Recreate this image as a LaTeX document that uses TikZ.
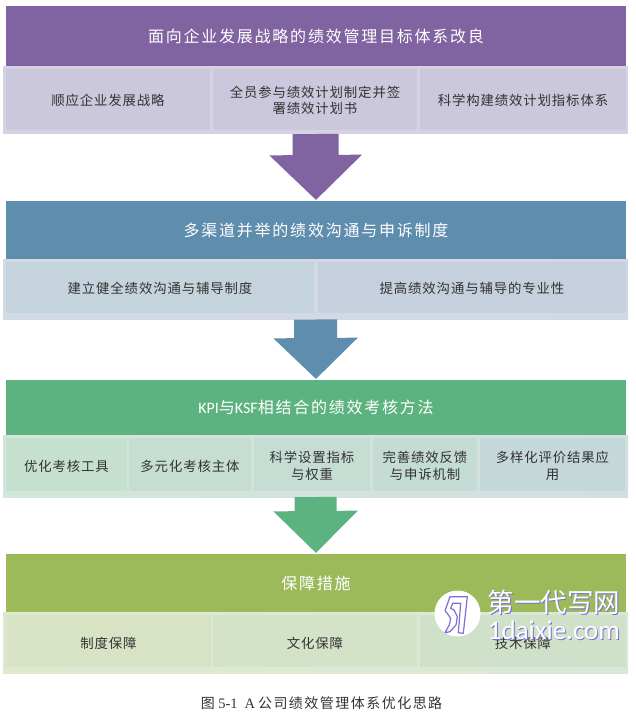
\documentclass[tikz,border=0pt]{standalone}
\usepackage{fontspec}
\setmainfont{Noto Sans CJK SC}
\newfontfamily\latinserif{Liberation Serif}
\newfontfamily\latinsans{Carlito}
\usetikzlibrary{arrows.meta}
\definecolor{Purple}{HTML}{8063A1}
\definecolor{PurpleCell}{HTML}{CBC7DC}
\definecolor{PurpleRow}{HTML}{D4D2E3}
\definecolor{Blue}{HTML}{5F8DAE}
\definecolor{BlueCell}{HTML}{C5D3DD}
\definecolor{BlueCellEnd}{HTML}{C6CFDD}
\definecolor{BlueRow}{HTML}{D2DBE3}
\definecolor{BlueRowEnd}{HTML}{D2D7E4}
\definecolor{Green}{HTML}{5CB37F}
\definecolor{GreenCell}{HTML}{C6E0D0}
\definecolor{GreenCellEnd}{HTML}{C5D8D9}
\definecolor{GreenRow}{HTML}{D2E6D9}
\definecolor{GreenRowEnd}{HTML}{D3DEE3}
\definecolor{Olive}{HTML}{9CBA5A}
\definecolor{OliveCell}{HTML}{D8E3C6}
\definecolor{OliveCellEnd}{HTML}{CFE1C9}
\definecolor{OliveRow}{HTML}{DFE9D0}
\definecolor{OliveRowEnd}{HTML}{D8E8D6}
\definecolor{Mark}{HTML}{7C70D8}
\tikzset{
  band/.style={inner sep=0pt,outer sep=0pt,minimum width=620,minimum height=#1,text=white,font=\fontsize{16}{18}\selectfont\addfontfeature{LetterSpace=11}},
  rowbox/.style={inner sep=0pt,outer sep=0pt,minimum width=625,minimum height=#1},
  cellbox/.style={inner sep=0pt,outer sep=0pt,minimum height=#1},
  celltext/.style={inner sep=0pt,align=center,text=black!80,font=\fontsize{13.4}{16.6}\selectfont\addfontfeature{LetterSpace=6.5}},
  flow/.style={line width=#1,shorten >=1pt}
}
\begin{document}
\begin{tikzpicture}[x=1pt,y=-1pt]
  \useasboundingbox (0,0) rectangle (636,715);
  % top block
  \node[band=60,fill=Purple] (bandA) at (316,36) {面向企业发展战略的绩效管理目标体系改良};
  \node[rowbox=68,fill=PurpleRow] (rowA) at (315.5,100) {};
  \foreach \n/\xa/\xb/\t in {1/6/210/顺应企业发展战略,2/213/417/{全员参与绩效计划制定并签\\署绩效计划书},3/420/626/科学构建绩效计划指标体系}{
    \node[cellbox=61,fill=PurpleCell,minimum width=\xb-\xa] (cellA\n) at ({(\xa+\xb)/2},99.5) {};
    \node[celltext] (textA\n) at ([yshift=-1pt]cellA\n.center) {\t};}
  % second block
  \node[band=58,fill=Blue] (bandB) at (316,230) {多渠道并举的绩效沟通与申诉制度};
  \node[rowbox=60.5,left color=BlueRow,right color=BlueRowEnd] (rowB) at (315.5,289.25) {};
  \foreach \n/\xa/\xb/\p/\t in {1/6/314/100/建立健全绩效沟通与辅导制度,2/318/626/0/提高绩效沟通与辅导的专业性}{
    \node[cellbox=51,fill=BlueCell!\p!BlueCellEnd,minimum width=\xb-\xa] (cellB\n) at ({(\xa+\xb)/2},287.5) {};
    \node[celltext] (textB\n) at ([yshift=-1pt]cellB\n.center) {\t};}
  % third block
  \node[band=55,fill=Green] (bandC) at (316,407.5) {{\latinsans KPI}与{\latinsans KSF}相结合的绩效考核方法};
  \node[rowbox=62,left color=GreenRow,right color=GreenRowEnd] (rowC) at (315.5,466) {};
  \foreach \n/\xa/\xb/\p/\t in {1/6/127/100/优化考核工具,2/129/251/80/多元化考核主体,3/254/370/60/{科学设置指标\\与权重},4/373/477/45/{完善绩效反馈\\与申诉机制},5/480/625/0/{多样化评价结果应\\用}}{
    \node[cellbox=53,fill=GreenCell!\p!GreenCellEnd,minimum width=\xb-\xa] (cellC\n) at ({(\xa+\xb)/2},464.5) {};
    \node[celltext] (textC\n) at ([yshift=-1.5pt]cellC\n.center) {\t};}
  % last block
  \node[band=58,fill=Olive] (bandD) at (316,583) {保障措施};
  \node[rowbox=61,left color=OliveRow,right color=OliveRowEnd] (rowD) at (315.5,642.5) {};
  \foreach \n/\xa/\xb/\p/\t in {1/6/211/100/制度保障,2/213/417/60/文化保障,3/420/626/0/技术保障}{
    \node[cellbox=52,fill=OliveCell!\p!OliveCellEnd,minimum width=\xb-\xa] (cellD\n) at ({(\xa+\xb)/2},641) {};
    \node[celltext] (textD\n) at ([yshift=-2pt]cellD\n.center) {\t};}
  % block arrows
  \draw[Purple,flow=46pt,-{Triangle[length=45pt,width=90pt]}] (rowA.south) -- (bandB.north);
  \draw[Blue,flow=43pt,-{Triangle[length=41pt,width=82pt]}] (rowB.south) -- (bandC.north);
  \draw[Green,flow=42pt,-{Triangle[length=42pt,width=82pt]}] (rowC.south) -- (bandD.north);
  % caption
  \node[inner sep=0pt,text=black!80,font=\fontsize{14}{16}\selectfont\addfontfeature{LetterSpace=10.5}] (caption) at (321.5,703) {图\hspace{3.5pt}{\latinserif\fontsize{14.5}{16}\selectfont 5-1\hspace{7pt}A}\hspace{3pt}公司绩效管理体系优化思路};
  % site mark
  \node[circle,fill=white,inner sep=0pt,minimum size=46] (markDisc) at (457.5,613.5) {};
  \draw[draw=Mark,fill=white,line width=1.2pt,line join=round] (450,596.7) -- (467.3,596.7) -- (463.3,633.3) -- (458.3,632.7) -- (460.7,603.3) -- (452.7,603.3) -- (450.7,608.3) -- (454,610) -- (457.3,616.7) -- (456,625) -- (450,631.7) -- (445,632.7) -- (449.3,625) -- (450.7,618.3) -- (446.7,612.7) -- (445,610.7) -- cycle;
  \foreach \dx/\c in {1/Mark,0/white}{
    \node[text=\c,inner sep=0pt,font=\fontsize{26.5}{28}\selectfont] (markName\dx) at (554+\dx,602+\dx) {第一代写网};
    \node[text=\c,inner sep=0pt,font=\latinsans\fontsize{27}{28}\selectfont] (markSite\dx) at (554+\dx,630+\dx) {1daixie.com};}
\end{tikzpicture}
\end{document}
